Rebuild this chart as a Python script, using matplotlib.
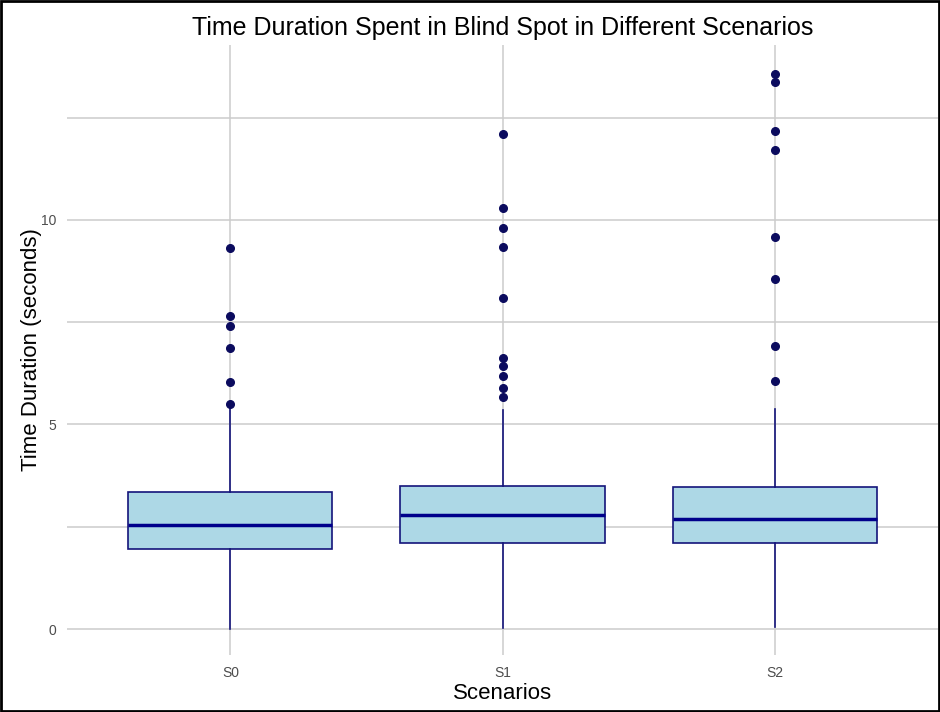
import matplotlib.pyplot as plt
from matplotlib.patches import Rectangle

plt.rcParams['font.family'] = ['Liberation Sans', 'DejaVu Sans']

scenarios = ['S0', 'S1', 'S2']
q1 = [1.96, 2.10, 2.11]
medians = [2.54, 2.79, 2.69]
q3 = [3.36, 3.50, 3.48]
whisker_low = [0.0, 0.02, 0.05]
whisker_high = [5.40, 5.35, 5.37]
outliers = [
    [9.32, 7.64, 7.41, 6.87, 6.05, 5.51],
    [12.09, 10.29, 9.80, 9.34, 8.08, 6.63, 6.44, 6.18, 5.88, 5.68],
    [13.57, 13.37, 12.18, 11.71, 9.58, 8.56, 6.93, 6.06],
]

stats = []
for i, name in enumerate(scenarios):
    stats.append({'label': name, 'q1': q1[i], 'med': medians[i], 'q3': q3[i],
                  'whislo': whisker_low[i], 'whishi': whisker_high[i],
                  'fliers': outliers[i]})

fig = plt.figure(figsize=(9.4, 7.12), dpi=100)
ax = fig.add_axes([0.0713, 0.080, 0.9267, 0.857])

ax.bxp(stats, positions=[1, 2, 3], widths=0.75, patch_artist=True, showcaps=False,
       boxprops=dict(facecolor='#add8e6', edgecolor='#14147a', linewidth=1.2),
       medianprops=dict(color='#00008b', linewidth=2.5),
       whiskerprops=dict(color='#14147a', linewidth=1.2),
       flierprops=dict(marker='o', markerfacecolor='#0b0b5e', markeredgecolor='#0b0b5e',
                       markersize=5.5))

ax.set_xlim(0.4, 3.6)
ax.set_ylim(-0.636, 14.28)
ax.set_yticks([0, 5, 10])
ax.set_yticks([2.5, 7.5, 12.5], minor=True)
ax.grid(True, which='major', color='#cccccc', linewidth=1.1, zorder=0)
ax.grid(True, which='minor', axis='y', color='#cccccc', linewidth=1.1, zorder=0)
ax.set_axisbelow(True)
for s in ax.spines.values():
    s.set_visible(False)
ax.tick_params(which='both', length=0, labelsize=10, labelcolor='#4d4d4d', pad=8)

ax.set_title('Time Duration Spent in Blind Spot in Different Scenarios', fontsize=18, pad=7)
ax.set_xlabel('Scenarios', fontsize=16, labelpad=2)
ax.set_ylabel('Time Duration (seconds)', fontsize=16, labelpad=-1)

fig.patches.append(Rectangle((0.001, 0.0015), 0.998, 0.997, transform=fig.transFigure,
                             fill=False, edgecolor='black', linewidth=2))

fig.savefig('out.png', dpi=100)
